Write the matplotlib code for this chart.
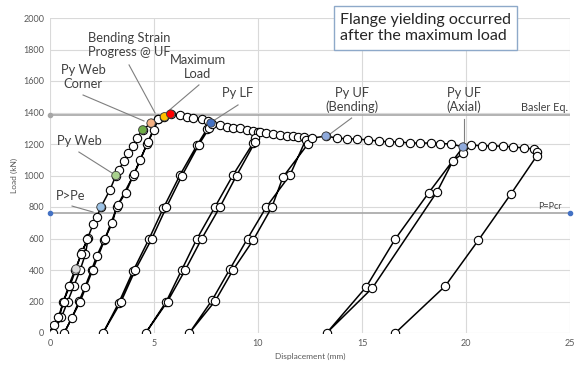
import matplotlib.pyplot as plt

# test history: displacement (mm) and load (kN), in loading order
disp = [
    # first cycles near origin
    0.0, 0.2, 0.45, 0.64, 0.96, 1.25, 1.53, 1.84,
    1.7, 1.45, 1.15, 0.85, 0.55, 0.15,
    0.4, 0.65, 0.9, 1.2, 1.5, 1.8, 2.08, 2.25, 2.45, 2.88, 3.17, 3.3, 3.56, 3.76, 3.98, 4.17, 4.46, 4.86, 5.2,
    # unload to 0.68 and reload
    5.0, 4.66, 4.33, 4.0, 3.64, 3.2, 3.0, 2.6, 2.25, 2.0, 1.68, 1.4, 1.05, 0.68,
    1.45, 2.05, 2.65, 3.25, 4.05, 4.7, 5.2,
    # envelope past max
    5.5, 5.8, 6.25, 6.58, 6.86, 7.3, 7.6, 7.74,
    7.55, 7.07, 6.25, 5.45, 4.76, 4.0, 3.3, 2.55,
    3.4, 4.1, 4.9, 5.6, 6.35, 7.15, 7.65, 7.8,
    8.17, 8.5, 8.8, 9.13, 9.47, 9.77, 10.0,
    9.85, 9.77, 8.8, 7.93, 7.06, 6.33, 5.58, 4.6,
    5.65, 6.5, 7.3, 8.17, 8.97, 9.85, 10.1,
    10.4, 10.7, 11.06, 11.4, 11.7, 11.9, 12.2,
    12.3, 11.54, 10.4, 9.5, 8.65, 7.8, 6.7,
    7.95, 8.8, 9.77, 10.67, 11.2, 12.4, 12.6,
    13.27, 13.8, 14.3, 14.76, 15.3, 15.8, 16.3, 16.8, 17.3, 17.8, 18.3, 18.75, 19.3, 19.86,
    18.2, 16.6, 15.2, 13.3,
    15.5, 18.6, 19.37, 19.86, 20.24,
    20.77, 21.25, 21.8, 22.26, 22.8, 23.27, 23.4, 23.4,
    22.16, 20.6, 19.0, 16.6,
]
load = [
    0, 50, 100, 200, 300, 406, 515, 603,
    500, 400, 300, 200, 100, 0,
    100, 200, 300, 400, 500, 600, 692, 737, 800, 908, 1000, 1035, 1092, 1143, 1190, 1240, 1290, 1333, 1360,
    1290, 1200, 1098, 1000, 890, 800, 698, 590, 490, 400, 292, 203, 95, 0,
    200, 400, 600, 810, 1010, 1210, 1360,
    1373, 1390, 1384, 1373, 1368, 1359, 1345, 1333,
    1295, 1193, 1003, 793, 597, 395, 190, 0,
    195, 400, 600, 800, 1000, 1195, 1300, 1330,
    1320, 1310, 1302, 1300, 1289, 1283, 1278,
    1238, 1207, 1003, 800, 597, 400, 197, 0,
    200, 400, 600, 800, 1000, 1210, 1275,
    1268, 1262, 1257, 1252, 1250, 1245, 1245,
    1228, 1003, 800, 600, 406, 210, 0,
    205, 400, 590, 800, 990, 1200, 1238,
    1250, 1238, 1232, 1232, 1225, 1219, 1213, 1213, 1206, 1206, 1206, 1203, 1200, 1181,
    889, 597, 292, 0,
    286, 895, 1092, 1143, 1194,
    1188, 1188, 1186, 1181, 1175, 1168, 1150, 1124,
    883, 590, 298, 0,
]

# highlighted events
event_disp = [1.25, 2.45, 3.17, 4.46, 4.86, 5.5, 5.8, 7.74, 13.27, 19.86]
event_load = [406, 800, 1000, 1290, 1333, 1373, 1390, 1333, 1250, 1181]
event_color = ['#D9D9D9', '#9DC3E6', '#A9D18E', '#70AD47', '#F4B183', '#FFC000',
               '#FF0000', '#4472C4', '#8FAADC', '#8FAADC']

basler_load = 1385
pcr_load = 764

labels = ['Bending Strain\nProgress @ UF', 'Maximum\nLoad', 'Py Web\nCorner', 'Py LF',
          'Py Web', 'P>Pe', 'Py UF\n(Bending)', 'Py UF\n(Axial)']
# text position, leader start, leader end (data units)
label_xy = [(3.8, 1830), (7.1, 1690), (1.6, 1625), (9.0, 1524),
            (1.39, 1219), (1.0, 870), (14.5, 1480), (19.9, 1480)]
leader = [((3.8, 1702), (5.05, 1397)), ((7.16, 1575), (5.58, 1397)),
          ((1.59, 1511), (4.52, 1346)), ((9.04, 1448), (7.84, 1346)),
          ((1.39, 1149), (2.98, 1016)), ((1.06, 806), (2.07, 768)),
          ((14.5, 1365), (13.46, 1263)), ((19.9, 1359), (19.9, 1200))]

plt.rcParams['font.family'] = ['Lato', 'DejaVu Sans']

fig = plt.figure(figsize=(5.74, 3.66), dpi=100)
ax = fig.add_axes([50/574, 33/366, 520/574, 315/366])

ax.plot([0, 25], [basler_load, basler_load], color='#A6A6A6', lw=1.2, zorder=1)
ax.plot([0], [basler_load], 'o', color='#A6A6A6', ms=3, zorder=1, clip_on=False)
ax.plot([0, 25], [pcr_load, pcr_load], color='#A6A6A6', lw=1.2, zorder=1)
ax.plot([0, 25], [pcr_load, pcr_load], 'o', color='#4472C4', ms=3, zorder=1, clip_on=False)

ax.plot(disp, load, '-o', color='black', lw=1.1, ms=6.0, mfc='white', mec='black',
        mew=0.8, zorder=3)
ax.scatter(event_disp, event_load, s=36, c=event_color, edgecolors='#404040',
           linewidths=0.6, zorder=4)

for txt, (tx, ty), (p0, p1) in zip(labels, label_xy, leader):
    ax.plot([p0[0], p1[0]], [p0[1], p1[1]], color='#7F7F7F', lw=0.8, zorder=2)
    ax.text(tx, ty, txt, ha='center', va='center', fontsize=9.3, color='#404040',
            linespacing=1.15, zorder=5)

ax.text(24.9, basler_load + 12, 'Basler Eq.', ha='right', va='bottom', fontsize=7.8,
        color='#404040')
ax.text(24.6, pcr_load + 8, 'P=Pcr', ha='right', va='bottom', fontsize=6.5,
        color='#404040')

fig.text(340/574, 1 - 28/366, 'Flange yielding occurred\nafter the maximum load',
         ha='left', va='center', fontsize=11.5, color='#262626', linespacing=1.25,
         bbox=dict(boxstyle='square,pad=0.4', fc='white', ec='#8EA9C9', lw=1.0))

ax.set_xlim(0, 25)
ax.set_ylim(0, 2000)
ax.set_xticks(range(0, 26, 5))
ax.set_yticks(range(0, 2001, 200))
ax.grid(True, color='#D9D9D9', lw=0.8, zorder=0)
ax.set_axisbelow(True)
for s in ax.spines.values():
    s.set_visible(False)
ax.tick_params(length=0, labelsize=6.5, labelcolor='#595959', pad=4)
ax.set_xlabel('Displacement (mm)', fontsize=6, color='#595959', labelpad=4)
ax.set_ylabel('Load (kN)', fontsize=6, color='#595959', labelpad=4)

fig.savefig('out.png', dpi=100)
